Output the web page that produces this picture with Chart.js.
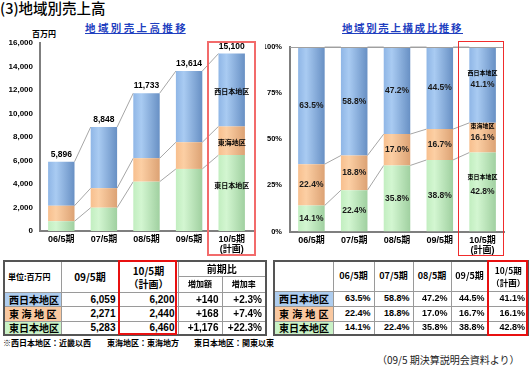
<!DOCTYPE html>
<html>
<head>
<meta charset="utf-8">
<script src="https://cdn.jsdelivr.net/npm/chart.js@4.4.0/dist/chart.umd.min.js"></script>
<style>
  body { margin: 0; background: #fff; width: 529px; height: 367px; overflow: hidden; position: relative;
         font-family: "Noto Sans CJK JP", sans-serif; color: #000; }
  .abs { position: absolute; white-space: nowrap; }
  canvas { position: absolute; top: 0; }
  .title { font-size: 14.5px; left: 0; top: -3px; font-weight: 500; }
  .ctitle { font-weight: bold; color: #1f3fbf; text-decoration: underline; font-size: 10.5px; top: 20px; }
  .redbox { position: absolute; box-sizing: border-box; }
  table { position: absolute; border-collapse: collapse; table-layout: fixed; border: 2px solid #555; }
  td { border: 1px solid #9a9a9a; padding: 0; font-weight: bold; overflow: hidden; white-space: nowrap;
       line-height: 11px; }
  td.num { font-family: "Liberation Sans", sans-serif; text-align: right; padding-right: 3px; }
  td.hd { text-align: center; line-height: 12px; }
  td.reg { text-align: justify; text-align-last: justify; padding: 0 4px; font-size: 10px; }
  .note { font-size: 8px; font-weight: bold; top: 337px; }
</style>
</head>
<body>
<div class="abs title">(3)地域別売上高</div>
<div class="abs ctitle" style="left:85px;">地 域 別 売 上 高 推 移</div>
<div class="abs ctitle" style="left:342px; letter-spacing:1.6px;">地域別売上構成比推移</div>
<div class="abs" style="left:32px; top:28px; font-size:8px; font-weight:bold;">百万円</div>

<canvas id="salesChart" width="265" height="260" style="left:0"></canvas>
<canvas id="shareChart" width="264" height="260" style="left:265px"></canvas>

<div class="redbox" style="left:207px; top:41px; width:49px; height:215px; border:2px solid #f26b6b;"></div>
<div class="redbox" style="left:458px; top:41px; width:46px; height:215px; border:1.5px solid #f02c2c;"></div>

<table id="salesTable" style="left:3px; top:260px; width:262px;"></table>
<table id="shareTable" style="left:273px; top:260px; width:255px;"></table>

<div class="redbox" style="left:118px; top:260px; width:59px; height:75px; border:2px solid #e81010;"></div>
<div class="redbox" style="left:487px; top:260px; width:41px; height:76px; border:2px solid #e81010;"></div>

<div class="abs note" style="left:3px;">※西日本地区：近畿以西</div>
<div class="abs note" style="left:107px;">東海地区：東海地方</div>
<div class="abs note" style="left:194px;">東日本地区：関東以東</div>
<div class="abs" style="left:377px; top:352px; font-size:10px; color:#222;">（09/5 期決算説明会資料より）</div>

<script>
const periods = ["06/5期", "07/5期", "08/5期", "09/5期", ["10/5期", "(計画)"]];
const regionNames = ["東日本地区", "東海地区", "西日本地区"];

// 売上高（百万円）
const salesEast = [831, 1982, 4200, 5283, 6460];
const salesTokai = [1321, 1663, 1995, 2271, 2440];
const salesWest = [3744, 5203, 5538, 6059, 6200];
const salesTotal = [5896, 8848, 11733, 13614, 15100];
const salesTickMax = 16000;
const salesTickStep = 2000;

// 構成比（%）
const shareEast = [14.1, 22.4, 35.8, 38.8, 42.8];
const shareTokai = [22.4, 18.8, 17.0, 16.7, 16.1];
const shareWest = [63.5, 58.8, 47.2, 44.5, 41.1];
const shareTickMax = 100;
const shareTickStep = 25;

// 表
const tableRegions = ["西日本地区", "東海地区", "東日本地区"];
const fy09 = ["6,059", "2,271", "5,283"];
const fy10 = ["6,200", "2,440", "6,460"];
const diffAmount = ["+140", "+168", "+1,176"];
const diffRate = ["+2.3%", "+7.4%", "+22.3%"];
const tablePeriods = ["06/5期", "07/5期", "08/5期", "09/5期"];

const regionBg = ["#aecdef", "#f9c8a0", "#c9f2c6"];
const barPct = 0.62;
const numFont = '"Liberation Sans", "Noto Sans CJK JP"';

function fmtPct(v) { return v.toFixed(1) + "%"; }

// 円柱っぽい横グラデーション
function barFill(light, mid, dark) {
  return (c) => {
    const chart = c.chart;
    if (c.type !== "data" || !chart.chartArea) return mid;
    const xs = chart.scales.x;
    const cx = xs.getPixelForValue(c.dataIndex);
    const half = (xs.width / chart.data.labels.length) * barPct / 2;
    const g = chart.ctx.createLinearGradient(cx - half, 0, cx + half, 0);
    g.addColorStop(0, mid);
    g.addColorStop(0.3, light);
    g.addColorStop(1, dark);
    return g;
  };
}
const fills = [
  barFill("#d3f6d1", "#c2eec0", "#a0d0a0"),
  barFill("#fccfa4", "#f7bf8e", "#dca274"),
  barFill("#a9cbf2", "#8fb6e6", "#6890c4"),
];

const barDecor = {
  id: "barDecor",
  beforeDatasetsDraw(chart) {
    const { ctx } = chart;
    ctx.save();
    ctx.strokeStyle = "#a6a6a6";
    ctx.lineWidth = 1;
    chart.data.datasets.forEach((ds, di) => {
      const bars = chart.getDatasetMeta(di).data;
      for (let i = 0; i < bars.length - 1; i++) {
        const a = bars[i], b = bars[i + 1];
        ctx.beginPath();
        ctx.moveTo(a.x + a.width / 2, a.y);
        ctx.lineTo(b.x - b.width / 2, b.y);
        ctx.stroke();
      }
    });
    ctx.restore();
  },
  afterDatasetsDraw(chart, args, o) {
    const { ctx } = chart;
    const n = chart.data.labels.length;
    const metas = chart.data.datasets.map((d, i) => chart.getDatasetMeta(i).data);
    ctx.save();
    ctx.textAlign = "center";
    ctx.textBaseline = "middle";
    ctx.fillStyle = "#000";
    if (o.totals) {
      ctx.font = "bold 8.5px " + numFont;
      const top = metas[metas.length - 1];
      o.totals.forEach((v, i) => ctx.fillText(v.toLocaleString("en-US"), top[i].x, top[i].y - 7));
    }
    if (o.values) {
      ctx.font = "bold 8.5px " + numFont;
      ctx.fillStyle = "#1a1a1a";
      chart.data.datasets.forEach((ds, di) => {
        metas[di].forEach((b, i) => ctx.fillText(fmtPct(ds.data[i]), b.x, (b.y + b.base) / 2));
      });
      ctx.fillStyle = "#000";
    }
    ctx.font = "bold " + o.nameSize + 'px "Noto Sans CJK JP"';
    chart.data.datasets.forEach((ds, di) => {
      const b = metas[di][n - 1];
      ctx.fillText(ds.label, b.x, (b.y + b.base) / 2 + o.nameOffset[di]);
    });
    if (o.topLine) {
      const a = chart.chartArea;
      ctx.strokeStyle = "#a0a0a0";
      ctx.lineWidth = 1;
      ctx.beginPath();
      ctx.moveTo(a.left, a.top + 0.5);
      ctx.lineTo(a.right, a.top + 0.5);
      ctx.stroke();
    }
    ctx.restore();
  },
};

function makeChart(id, series, opt) {
  return new Chart(document.getElementById(id), {
    type: "bar",
    data: {
      labels: periods,
      datasets: series.map((d, i) => ({
        label: regionNames[i],
        data: d,
        backgroundColor: fills[i],
        borderWidth: 0,
        barPercentage: barPct,
        categoryPercentage: 1,
      })),
    },
    options: {
      responsive: false,
      animation: false,
      devicePixelRatio: 1,
      layout: { padding: opt.padding },
      plugins: { legend: { display: false }, tooltip: { enabled: false }, barDecor: opt.decor },
      scales: {
        x: {
          stacked: true,
          grid: { display: false, drawTicks: false },
          border: { color: "#7f7f7f", width: 2 },
          ticks: { color: "#000", font: { family: numFont, size: 9, weight: "bold", lineHeight: 1.1 },
                   padding: 4, maxRotation: 0, autoSkip: false },
          afterFit(s) { s.height = opt.xHeight; },
        },
        y: {
          stacked: true,
          min: 0,
          max: opt.max,
          grid: { display: false, drawTicks: false },
          border: { color: "#7f7f7f", width: 2 },
          ticks: { stepSize: opt.step, color: "#000", padding: opt.tickPad,
                   font: { family: numFont, size: opt.tickSize, weight: "bold" }, callback: opt.tickFmt },
          afterFit(s) { s.width = opt.yWidth; },
        },
      },
    },
    plugins: [barDecor],
  });
}

makeChart("salesChart", [salesEast, salesTokai, salesWest], {
  padding: { left: 0, right: 12, top: 43, bottom: 0 },
  xHeight: 29, yWidth: 40, max: salesTickMax, step: salesTickStep, tickPad: 7, tickSize: 8,
  tickFmt: (v) => v.toLocaleString("en-US"),
  decor: { totals: salesTotal, nameSize: 7, nameOffset: [-8, 2, 1] },
});

makeChart("shareChart", [shareEast, shareTokai, shareWest], {
  padding: { left: 0, right: 25, top: 47, bottom: 0 },
  xHeight: 28.5, yWidth: 25, max: shareTickMax, step: shareTickStep, tickPad: 8, tickSize: 7.5,
  tickFmt: (v) => v + "%",
  decor: { values: true, topLine: true, nameSize: 6, nameOffset: [-15, -12, -12] },
});

// 表
function cell(tr, html, cls, style, attrs) {
  const td = document.createElement("td");
  td.innerHTML = html;
  if (cls) td.className = cls;
  if (style) td.style.cssText = style;
  if (attrs) Object.entries(attrs).forEach(([k, v]) => td.setAttribute(k, v));
  tr.appendChild(td);
  return td;
}

const st = document.getElementById("salesTable");
const cg1 = document.createElement("colgroup");
[57, 58, 59, 44, 44].forEach((w) => { const c = document.createElement("col"); c.style.width = w + "px"; cg1.appendChild(c); });
st.appendChild(cg1);
let tr = st.insertRow();
tr.style.height = "15px";
cell(tr, "単位:百万円", "hd", "font-size:8px;text-align:left;padding-left:3px", { rowspan: 2 });
cell(tr, "09/5期", "hd", "font-size:10px", { rowspan: 2 });
cell(tr, "10/5期<br>（計画）", "hd", "font-size:10px;line-height:13px", { rowspan: 2 });
cell(tr, "前期比", "hd", "font-size:10px", { colspan: 2 });
tr = st.insertRow();
tr.style.height = "16px";
cell(tr, "増加額", "hd", "font-size:8px");
cell(tr, "増加率", "hd", "font-size:8px");
tableRegions.forEach((r, i) => {
  const row = st.insertRow();
  row.style.height = i === 1 ? "15px" : "14px";
  cell(row, r, "reg", "background:" + regionBg[i]);
  [fy09[i], fy10[i], diffAmount[i], diffRate[i]].forEach((v) => cell(row, v, "num", "font-size:10px"));
});

const pt = document.getElementById("shareTable");
const cg2 = document.createElement("colgroup");
[59, 41, 39, 38, 37, 41].forEach((w) => { const c = document.createElement("col"); c.style.width = w + "px"; cg2.appendChild(c); });
pt.appendChild(cg2);
tr = pt.insertRow();
tr.style.height = "30px";
cell(tr, "", "hd");
tablePeriods.forEach((p) => cell(tr, p, "hd", "font-size:9px"));
cell(tr, "10/5期<br>（計画）", "hd", "font-size:8.5px");
const shareRows = [shareWest, shareTokai, shareEast];
tableRegions.forEach((r, i) => {
  const row = pt.insertRow();
  row.style.height = i === 2 ? "14px" : "15px";
  cell(row, r, "reg", "background:" + regionBg[i]);
  shareRows[i].forEach((v) => cell(row, fmtPct(v), "num", "font-size:9px"));
});
</script>
</body>
</html>
